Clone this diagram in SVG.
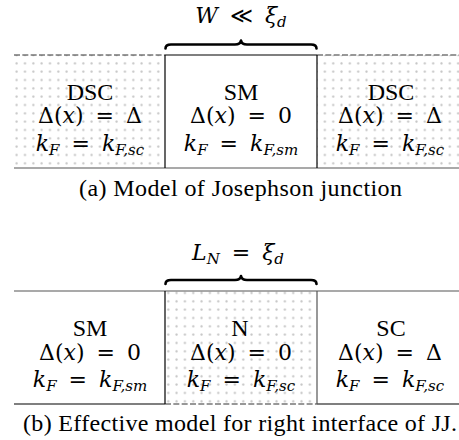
<svg xmlns="http://www.w3.org/2000/svg" width="459" height="440" viewBox="0 0 459 440">
<style>
text{font-family:"Liberation Serif","DejaVu Serif",serif;font-size:24px;fill:#000;text-anchor:middle}
.m{font-family:"DejaVu Serif","Liberation Serif",serif;font-size:22px;word-spacing:5px}
.it{font-style:italic}
.sub{font-size:15px;font-style:italic}
.cap{font-size:24px}
.ln{stroke:#000;stroke-width:1.2;fill:none}
.gl{stroke:#555;stroke-width:1.2;fill:none}
.dl{stroke:#333;stroke-width:1.2;fill:none;stroke-dasharray:6 2.33}
.brace{stroke:#000;stroke-width:2.6;fill:none;stroke-linecap:round;stroke-linejoin:round}
</style>
<defs>
<pattern id="dotsA" patternUnits="userSpaceOnUse" x="-4.165" y="50.835" width="8.33" height="8.33">
<circle cx="4.165" cy="4.165" r="1.1" fill="#c4c4c4"/>
</pattern>
<pattern id="dotsB" patternUnits="userSpaceOnUse" x="-2.5" y="288.8" width="8.33" height="8.33">
<circle cx="4.165" cy="4.165" r="1.1" fill="#c4c4c4"/>
</pattern>
</defs>

<g id="top-left">
<rect x="14" y="55" width="151" height="113" fill="url(#dotsA)"/>
<line class="dl" x1="14" y1="55" x2="165" y2="55"/>
<text x="90" y="100">DSC</text>
<text class="m" x="90" y="123">Δ(<tspan class="it">x</tspan>) = Δ</text>
<text class="m" x="90" y="151"><tspan class="it">k</tspan><tspan class="sub" dy="4">F</tspan><tspan dy="-4"> = </tspan><tspan class="it">k</tspan><tspan class="sub" dy="4">F,sc</tspan></text>
</g>

<g id="top-mid">
<line class="ln" x1="165" y1="55" x2="317" y2="55"/>
<text x="241" y="100">SM</text>
<text class="m" x="241" y="123">Δ(<tspan class="it">x</tspan>) = 0</text>
<text class="m" x="241" y="151"><tspan class="it">k</tspan><tspan class="sub" dy="4">F</tspan><tspan dy="-4"> = </tspan><tspan class="it">k</tspan><tspan class="sub" dy="4">F,sm</tspan></text>
</g>

<g id="top-right">
<rect x="317" y="55" width="142" height="113" fill="url(#dotsA)"/>
<line class="dl" x1="317" y1="55" x2="459" y2="55"/>
<text x="391" y="100">DSC</text>
<text class="m" x="390" y="123">Δ(<tspan class="it">x</tspan>) = Δ</text>
<text class="m" x="390" y="151"><tspan class="it">k</tspan><tspan class="sub" dy="4">F</tspan><tspan dy="-4"> = </tspan><tspan class="it">k</tspan><tspan class="sub" dy="4">F,sc</tspan></text>
</g>

<g id="top-lines">
<line class="gl" x1="14" y1="168" x2="459" y2="168"/>
<line class="ln" x1="165" y1="55" x2="165" y2="168"/>
<line class="ln" x1="317" y1="55" x2="317" y2="168"/>
</g>

<g id="top-brace">
<path class="brace" d="M165.5,48.5 Q165.5,44.5 171,44.5 L235,44.5 Q240.5,44.5 241,40.5 Q241.5,44.5 247,44.5 L311,44.5 Q316.5,44.5 316.5,48.5"/>
<text class="m" x="241" y="23"><tspan class="it">W</tspan> ≪ <tspan class="it">ξ</tspan><tspan class="sub" dy="4">d</tspan></text>
</g>

<text id="caption-a" class="cap" x="240.5" y="196" textLength="323" lengthAdjust="spacing">(a)  Model of Josephson junction</text>

<g id="bot-left">
<text x="90" y="336">SM</text>
<text class="m" x="90" y="360">Δ(<tspan class="it">x</tspan>) = 0</text>
<text class="m" x="90" y="387"><tspan class="it">k</tspan><tspan class="sub" dy="4">F</tspan><tspan dy="-4"> = </tspan><tspan class="it">k</tspan><tspan class="sub" dy="4">F,sm</tspan></text>
</g>

<g id="bot-mid">
<rect x="165" y="291" width="152" height="113" fill="url(#dotsB)"/>
<line class="dl" x1="165" y1="404" x2="317" y2="404"/>
<text x="240" y="336">N</text>
<text class="m" x="241" y="360">Δ(<tspan class="it">x</tspan>) = 0</text>
<text class="m" x="241" y="387"><tspan class="it">k</tspan><tspan class="sub" dy="4">F</tspan><tspan dy="-4"> = </tspan><tspan class="it">k</tspan><tspan class="sub" dy="4">F,sc</tspan></text>
</g>

<g id="bot-right">
<text x="391" y="336">SC</text>
<text class="m" x="390" y="360">Δ(<tspan class="it">x</tspan>) = Δ</text>
<text class="m" x="390" y="387"><tspan class="it">k</tspan><tspan class="sub" dy="4">F</tspan><tspan dy="-4"> = </tspan><tspan class="it">k</tspan><tspan class="sub" dy="4">F,sc</tspan></text>
</g>

<g id="bot-lines">
<line class="gl" x1="14" y1="291" x2="459" y2="291"/>
<line class="ln" x1="14" y1="404" x2="165" y2="404"/>
<line class="ln" x1="317" y1="404" x2="459" y2="404"/>
<line class="ln" x1="165" y1="291" x2="165" y2="404"/>
<line class="gl" x1="317" y1="291" x2="317" y2="404"/>
</g>

<g id="bot-brace">
<path class="brace" d="M165.5,284 Q165.5,280 171,280 L235,280 Q240.5,280 241,276 Q241.5,280 247,280 L311,280 Q316.5,280 316.5,284"/>
<text class="m" x="238" y="260"><tspan class="it">L</tspan><tspan class="sub" dy="4">N</tspan><tspan dy="-4"> = </tspan><tspan class="it">ξ</tspan><tspan class="sub" dy="4">d</tspan></text>
</g>

<text id="caption-b" class="cap" x="240" y="431" textLength="434" lengthAdjust="spacing">(b)  Effective model for right interface of JJ.</text>
</svg>
